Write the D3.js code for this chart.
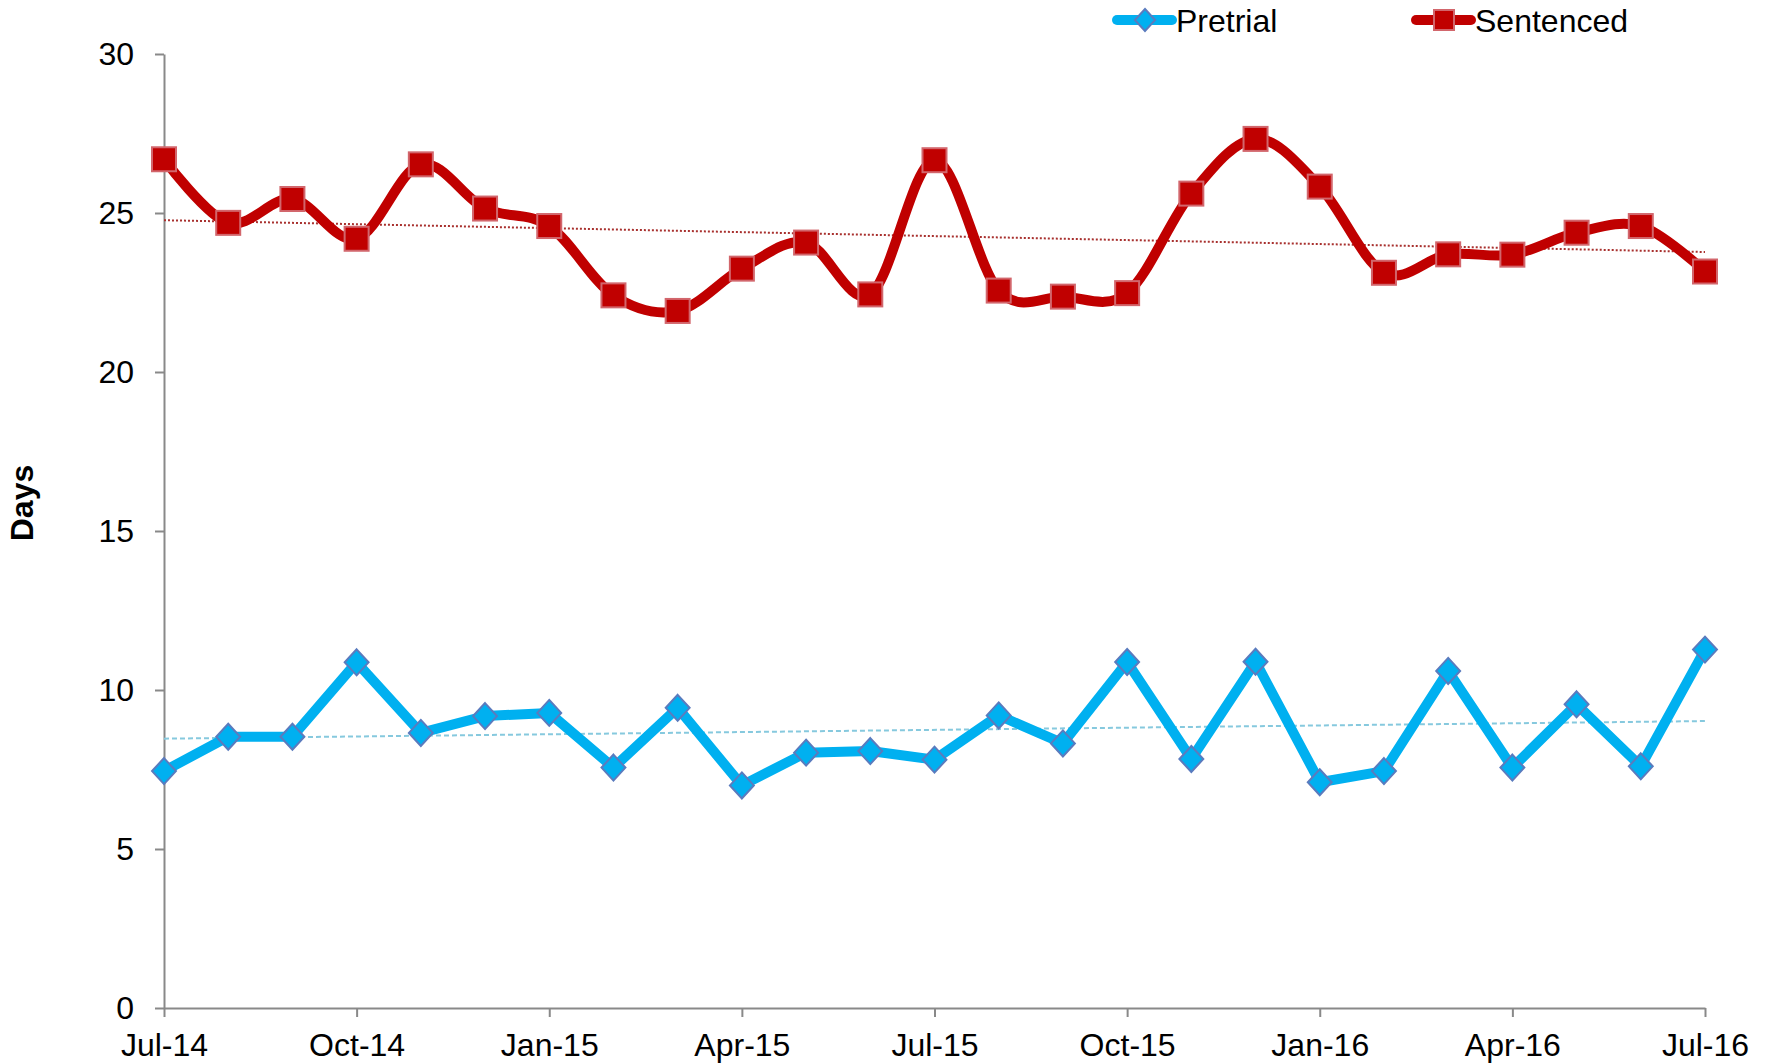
<!DOCTYPE html>
<html>
<head>
<meta charset="utf-8">
<script src="https://cdnjs.cloudflare.com/ajax/libs/d3/7.8.5/d3.min.js"></script>
<style>
body { margin: 0; background: #fff; }
text { font-family: "Liberation Sans", Arial, sans-serif; fill: #000; }
</style>
</head>
<body>
<div id="result"></div>
<script>
/* Data */
var months = ["Jul-14", "Aug-14", "Sep-14", "Oct-14", "Nov-14", "Dec-14",
              "Jan-15", "Feb-15", "Mar-15", "Apr-15", "May-15", "Jun-15",
              "Jul-15", "Aug-15", "Sep-15", "Oct-15", "Nov-15", "Dec-15",
              "Jan-16", "Feb-16", "Mar-16", "Apr-16", "May-16", "Jun-16", "Jul-16"];
var pretrial = [7.45, 8.53, 8.53, 10.87, 8.65, 9.18, 9.28, 7.56, 9.44, 7.0, 8.03, 8.08,
                7.81, 9.2, 8.32, 10.88, 7.83, 10.89, 7.1, 7.45, 10.6, 7.56, 9.55, 7.6, 11.27];
var sentenced = [26.69, 24.69, 25.44, 24.19, 26.53, 25.14, 24.59, 22.41, 21.92, 23.25, 24.07, 22.44,
                 26.66, 22.56, 22.37, 22.48, 25.61, 27.33, 25.83, 23.12, 23.7, 23.69, 24.38, 24.59, 23.16];
var yTicks = [0, 5, 10, 15, 20, 25, 30];
var xTickLabels = ["Jul-14", "Oct-14", "Jan-15", "Apr-15", "Jul-15", "Oct-15", "Jan-16", "Apr-16", "Jul-16"];
var seriesNames = ["Pretrial", "Sentenced"];

var width = 1772, height = 1064;
var axisColor = "#898989";
var blue = "#00B0F0", red = "#C00000";

var svg = d3.select("#result").append("svg")
    .attr("width", width)
    .attr("height", height);

var x = d3.scalePoint().domain(months).range([164, 1705]);
var y = d3.scaleLinear().domain([0, 30]).range([1008, 54]);

/* Axes */
var yAxis = svg.append("g")
    .attr("transform", "translate(164,0)")
    .call(d3.axisLeft(y).tickValues(yTicks).tickSize(9).tickSizeOuter(0).tickPadding(21));
var xAxis = svg.append("g")
    .attr("transform", "translate(0,1008)")
    .call(d3.axisBottom(x).tickValues(xTickLabels).tickSize(9).tickSizeOuter(0).tickPadding(10));

[yAxis, xAxis].forEach(function (g) {
    g.select(".domain").attr("stroke", axisColor).attr("stroke-width", 2);
    g.selectAll(".tick line").attr("stroke", axisColor).attr("stroke-width", 2);
    g.selectAll(".tick text").style("font-size", "32px").attr("fill", "#000");
});
xAxis.selectAll(".tick text").attr("dy", "0.9em");

svg.append("text")
    .attr("transform", "translate(33,503) rotate(-90)")
    .attr("text-anchor", "middle")
    .style("font-size", "32px")
    .style("font-weight", "bold")
    .text("Days");

/* Trendlines (least squares) */
function trend(vals) {
    var n = vals.length, sx = 0, sy = 0, sxy = 0, sxx = 0;
    vals.forEach(function (v, i) { sx += i; sy += v; sxy += i * v; sxx += i * i; });
    var b = (n * sxy - sx * sy) / (n * sxx - sx * sx);
    var a = (sy - b * sx) / n;
    return [a, a + b * (n - 1)];
}
var tS = trend(sentenced), tP = trend(pretrial);
svg.append("line")
    .attr("x1", x(months[0])).attr("x2", x(months[months.length - 1]))
    .attr("y1", y(tS[0])).attr("y2", y(tS[1]))
    .attr("stroke", "#A8302E").attr("stroke-width", 2).attr("stroke-dasharray", "2,2");
svg.append("line")
    .attr("x1", x(months[0])).attr("x2", x(months[months.length - 1]))
    .attr("y1", y(tP[0])).attr("y2", y(tP[1]))
    .attr("stroke", "#86C9DE").attr("stroke-width", 2).attr("stroke-dasharray", "5,3");

/* Lines */
var smooth = d3.line()
    .x(function (d, i) { return x(months[i]); })
    .y(function (d) { return y(d); })
    .curve(d3.curveCardinal.tension(0));
var straight = d3.line()
    .x(function (d, i) { return x(months[i]); })
    .y(function (d) { return y(d); });

svg.append("path").attr("d", straight(pretrial))
    .attr("fill", "none").attr("stroke", blue).attr("stroke-width", 10)
    .attr("stroke-linejoin", "round");
svg.append("path").attr("d", smooth(sentenced))
    .attr("fill", "none").attr("stroke", red).attr("stroke-width", 10)
    .attr("stroke-linejoin", "round");

/* Markers */
function diamond(s) { return "M0," + (-s) + "L" + (s * 0.92) + ",0L0," + s + "L" + (-s * 0.92) + ",0Z"; }

svg.append("g").selectAll("path").data(pretrial).enter().append("path")
    .attr("transform", function (d, i) { return "translate(" + x(months[i]) + "," + y(d) + ")"; })
    .attr("d", diamond(13))
    .attr("fill", blue).attr("stroke", "#5A7BBE").attr("stroke-width", 2);

svg.append("g").selectAll("rect").data(sentenced).enter().append("rect")
    .attr("x", function (d, i) { return x(months[i]) - 12; })
    .attr("y", function (d) { return y(d) - 12; })
    .attr("width", 24).attr("height", 24)
    .attr("fill", red).attr("stroke", "#D2666C").attr("stroke-width", 2);

/* Legend */
var legend = svg.append("g");
var legendX = [1117, 1416];
seriesNames.forEach(function (name, i) {
    var g = legend.append("g").attr("transform", "translate(" + legendX[i] + ",20)");
    g.append("line").attr("x1", 0).attr("x2", 55).attr("y1", 0).attr("y2", 0)
        .attr("stroke", i === 0 ? blue : red).attr("stroke-width", 10).attr("stroke-linecap", "round");
    if (i === 0) {
        g.append("path").attr("transform", "translate(28,0)").attr("d", diamond(11))
            .attr("fill", blue).attr("stroke", "#5A7BBE").attr("stroke-width", 2);
    } else {
        g.append("rect").attr("x", 18).attr("y", -10).attr("width", 20).attr("height", 20)
            .attr("fill", red).attr("stroke", "#D2666C").attr("stroke-width", 2);
    }
    g.append("text").attr("x", 59).attr("dy", "0.36em")
        .style("font-size", "32px").text(name);
});
</script>
</body>
</html>
